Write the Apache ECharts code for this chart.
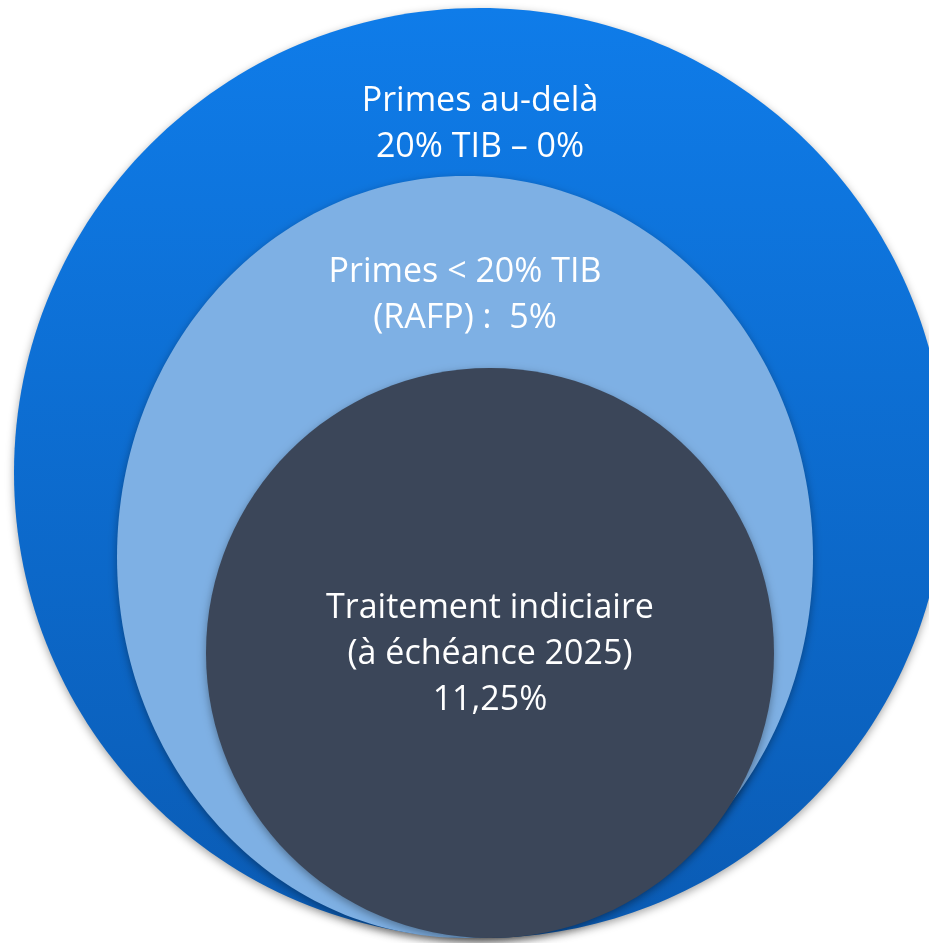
<!DOCTYPE html>
<html>
<head>
<meta charset="utf-8">
<script src="https://cdn.jsdelivr.net/npm/echarts@6/dist/echarts.min.js"></script>
<style>
  html, body { margin: 0; padding: 0; background: #fff; }
  #main { width: 929px; height: 943px; }
</style>
</head>
<body>
<div id="main"></div>
<script>
// niveaux, du plus large au plus petit
var levels = ['Primes au-delà', 'Primes < 20% TIB', 'Traitement indiciaire'];
var details = ['20% TIB – 0%', '(RAFP) :  5%', '(à échéance 2025)\n11,25%'];
var rates = ['0%', '5%', '11,25%'];

// ellipses en unités d'axe : [cx, cy, rx, ry, labelY]
var circles = [
  [480, 473, 466, 465, 124],
  [465, 557, 348, 381, 295],
  [490, 653, 284, 285, 654]
];

var fills = [
  new echarts.graphic.LinearGradient(0, 0, 0, 1, [
    { offset: 0, color: '#0f7ce9' },
    { offset: 1, color: '#0a5bb4' }
  ]),
  '#7eb0e4',
  '#3b4659'
];

var chart = echarts.init(document.getElementById('main'));

chart.setOption({
  animation: false,
  grid: { left: 0, right: 0, top: 0, bottom: 0 },
  xAxis: { type: 'value', min: 0, max: 929, show: false },
  yAxis: { type: 'value', min: 0, max: 943, inverse: true, show: false },
  series: [{
    type: 'custom',
    coordinateSystem: 'cartesian2d',
    data: circles.map(function (c, i) {
      return { value: c, name: levels[i] };
    }),
    renderItem: function (params, api) {
      var i = params.dataIndex;
      var c = api.coord([api.value(0), api.value(1)]);
      var r = api.size([api.value(2), api.value(3)]);
      var ly = api.coord([0, api.value(4)])[1];
      return {
        type: 'group',
        children: [{
          type: 'ellipse',
          shape: { cx: c[0], cy: c[1], rx: r[0], ry: r[1] },
          style: {
            fill: fills[i],
            shadowBlur: 8,
            shadowOffsetY: 3,
            shadowColor: 'rgba(0,0,0,0.35)'
          }
        }, {
          type: 'text',
          style: {
            text: levels[i] + '\n' + details[i],
            x: c[0],
            y: ly,
            align: 'center',
            verticalAlign: 'middle',
            fill: '#fff',
            font: '34px "Open Sans"',
            lineHeight: 46
          }
        }]
      };
    }
  }]
});
</script>
</body>
</html>
